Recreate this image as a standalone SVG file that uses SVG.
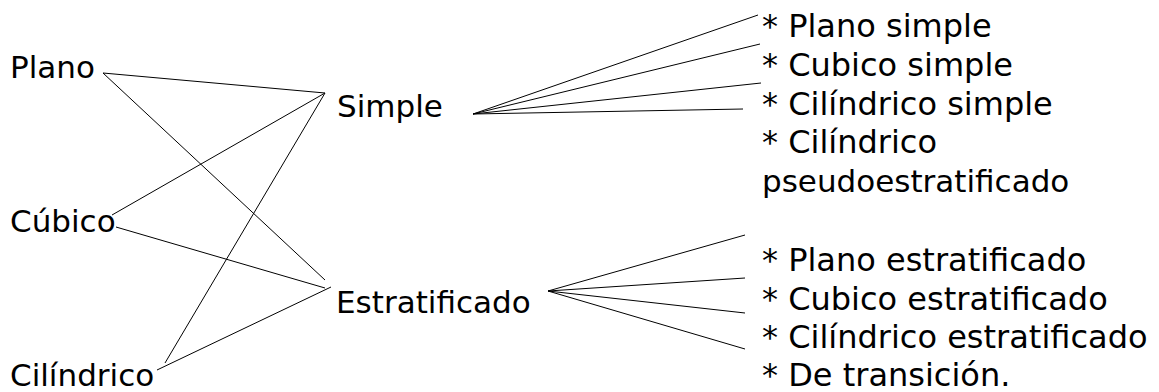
<svg xmlns="http://www.w3.org/2000/svg" width="1159" height="392" viewBox="0 0 1159 392">
<style>
text{font-family:"DejaVu Sans",Verdana,sans-serif;font-size:31px;fill:#000}
.list text{font-size:32px}
.list text.n{font-size:31px}
.c line{stroke:#000;stroke-width:1;fill:none}
</style>
<rect width="1159" height="392" fill="#fff"/>
<g id="connectors" class="c">
<line x1="103" y1="73" x2="325" y2="93"/>
<line x1="103" y1="73" x2="325" y2="280"/>
<line x1="112" y1="215" x2="325" y2="93"/>
<line x1="116" y1="227" x2="325" y2="288"/>
<line x1="165" y1="363" x2="325" y2="93"/>
<line x1="157" y1="370" x2="331" y2="287"/>
<line x1="473" y1="114" x2="758" y2="15"/>
<line x1="473" y1="114" x2="760" y2="44"/>
<line x1="473" y1="114" x2="761" y2="83"/>
<line x1="473" y1="114" x2="743" y2="109"/>
<line x1="548" y1="291" x2="745" y2="235"/>
<line x1="548" y1="291" x2="745" y2="278"/>
<line x1="548" y1="291" x2="745" y2="313"/>
<line x1="548" y1="291" x2="745" y2="349"/>
</g>
<g id="plano"><text x="10" y="78">Plano</text></g>
<g id="cubico"><text x="10" y="232">Cúbico</text></g>
<g id="cilindrico"><text x="10" y="386">Cilíndrico</text></g>
<g id="simple"><text x="337" y="117">Simple</text></g>
<g id="estratificado"><text x="336" y="313">Estratificado</text></g>
<g id="tipos-simple" class="list">
<text x="762" y="37">* Plano simple</text>
<text x="762" y="75.75">* Cubico simple</text>
<text x="762" y="114.5">* Cilíndrico simple</text>
<text x="762" y="153.25">* Cilíndrico</text>
<text class="n" x="762" y="192">pseudoestratificado</text>
</g>
<g id="tipos-estratificado" class="list">
<text x="762" y="271">* Plano estratificado</text>
<text x="762" y="309.5">* Cubico estratificado</text>
<text x="762" y="348">* Cilíndrico estratificado</text>
<text x="762" y="386">* De transición.</text>
</g>
</svg>
